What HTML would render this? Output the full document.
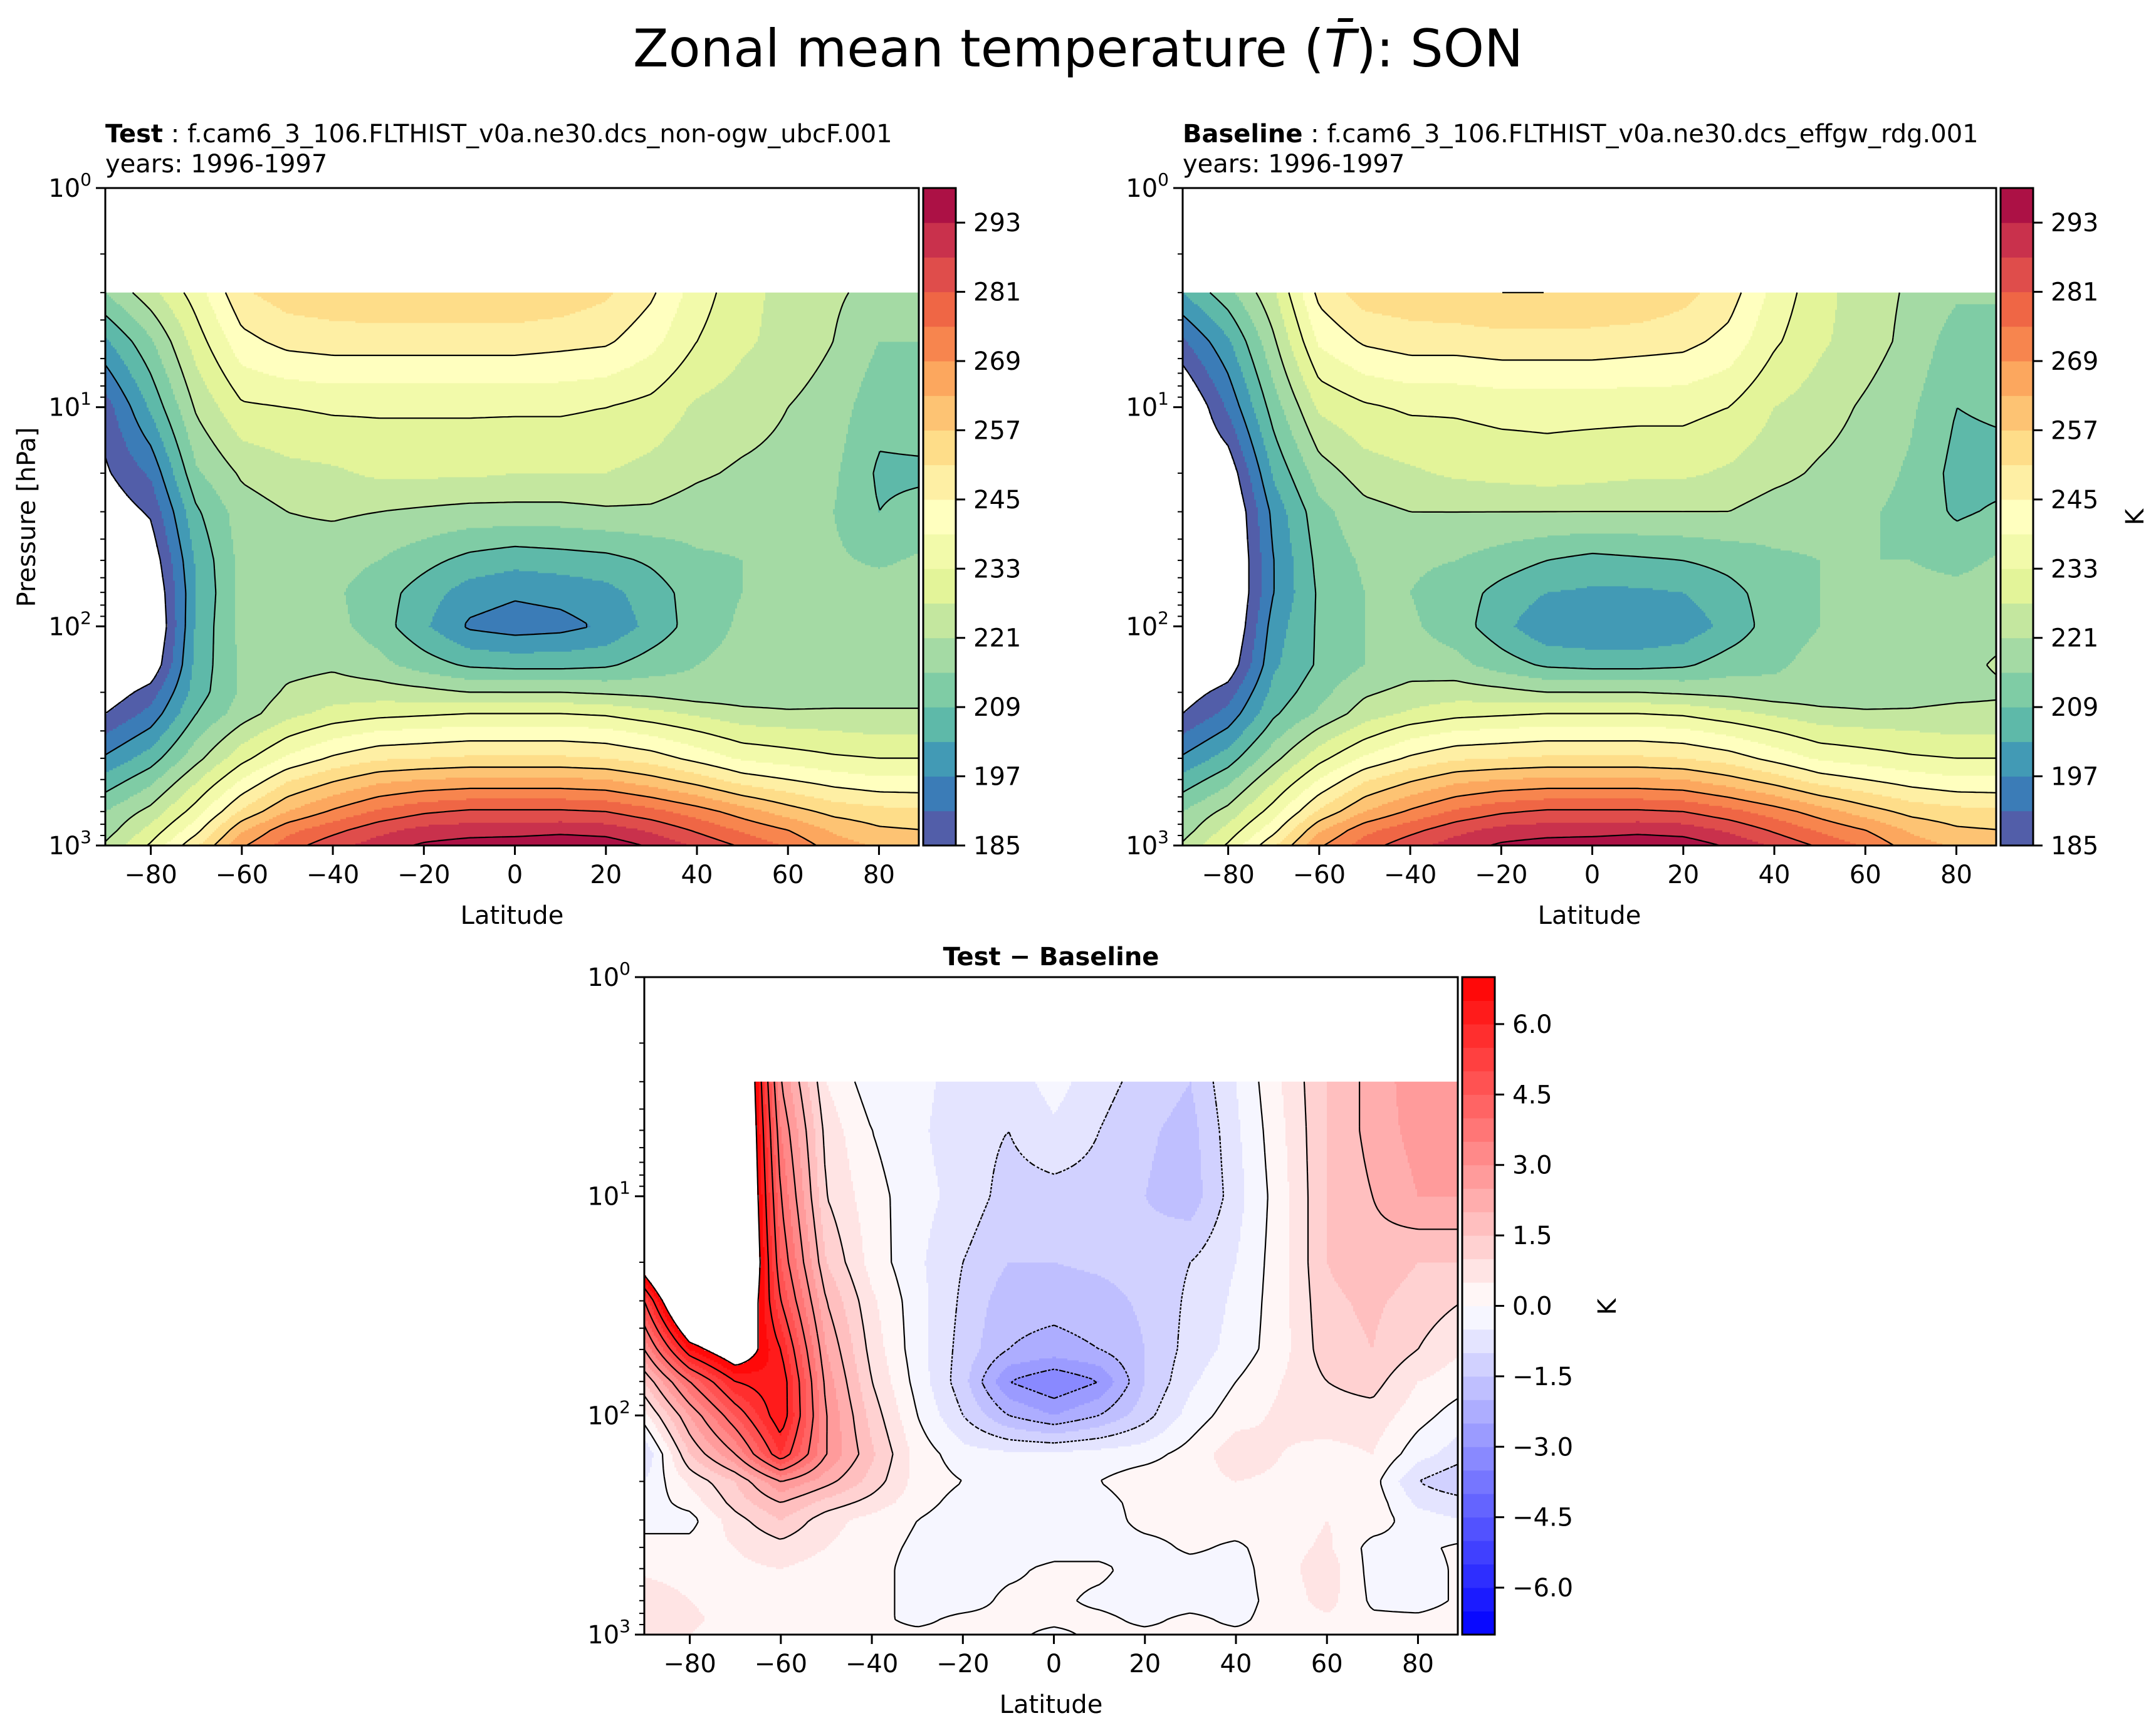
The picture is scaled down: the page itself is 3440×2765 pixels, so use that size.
<!DOCTYPE html>
<html><head><meta charset="utf-8">
<style>
html,body{margin:0;padding:0;background:#fff;}
svg{display:block;font-family:"DejaVu Sans","Liberation Sans",sans-serif;}
</style></head>
<body>
<svg id="fig" width="3440" height="2765" viewBox="0 0 3440 2765" xmlns="http://www.w3.org/2000/svg">
<rect width="3440" height="2765" fill="#fff"/>
<text x="1720" y="106" font-size="83" text-anchor="middle">Zonal mean temperature (<tspan font-style="italic">T̄</tspan>): SON</text>
<text x="168" y="227" font-size="40"><tspan font-weight="bold">Test</tspan> : f.cam6_3_106.FLTHIST_v0a.ne30.dcs_non-ogw_ubcF.001</text>
<text x="168" y="275" font-size="40">years: 1996-1997</text>
<text x="1887" y="227" font-size="40"><tspan font-weight="bold">Baseline</tspan> : f.cam6_3_106.FLTHIST_v0a.ne30.dcs_effgw_rdg.001</text>
<text x="1887" y="275" font-size="40">years: 1996-1997</text>
<text x="1677" y="1540" font-size="40" font-weight="bold" text-anchor="middle">Test − Baseline</text>
<text x="0" y="0" font-size="40" text-anchor="middle" transform="translate(56,825) rotate(-90)">Pressure [hPa]</text>
<text x="0" y="0" font-size="40" text-anchor="middle" transform="translate(3420,825) rotate(-90)">K</text>
<text x="0" y="0" font-size="40" text-anchor="middle" transform="translate(2578,2085) rotate(-90)">K</text>
<g id="layer"></g>
</svg>
<script>
const lats=[-90,-80,-70,-60,-50,-40,-30,-20,-10,0,10,20,30,40,50,60,70,80,90];
const pres=[3,5,10,20,30,50,70,100,150,200,250,300,400,500,700,850,1000];
const testT=[
[215,225,236,250,254,255,256,256,256,256,255,252,246,236,229,225,222,219,219],
[202,214,230,243,247,248,248,248,248,248,247,246,241,233,228,225,221,215,215],
[188,204,222,232,233,234,234,234,234,234,234,233,231,226,224,221,218,211,212],
[184,192,214,222,225,226,228,228,228,227,227,227,225,222,220,219,216,208,208],
[180,186,208,218,221,222,221,220,219,219,219,220,220,218,217,217,215,209,211],
[176,180,204,217,218,217,215,211,207,205,206,207,210,214,215,216,216,214,216],
[173,177,203,217,218,216,212,206,200,198,199,201,206,212,215,217,218,218,218],
[170,175,204,217,219,217,212,204,196,194,195,198,205,212,216,218,219,219,219],
[172,179,205,216,219,220,217,212,208,207,207,208,212,215,217,218,219,219,221],
[180,188,206,216,222,224,224,223,221,221,221,220,219,217,217,217,218,218,218],
[185,193,209,218,225,229,231,232,233,233,233,232,229,226,223,222,222,222,222],
[190,198,213,223,231,236,239,240,241,241,241,240,237,233,229,228,227,226,226],
[198,206,219,231,240,246,250,251,252,252,252,251,248,243,238,236,234,233,233],
[205,213,226,239,250,256,261,263,264,264,264,263,259,254,248,245,242,240,240],
[215,223,236,252,263,270,276,280,282,282,282,281,277,272,266,260,255,253,252],
[218,229,243,262,273,279,285,289,290,290,291,290,286,280,274,269,262,258,257],
[222,234,250,268,278,285,290,294,296,297,298,297,292,286,280,274,266,262,262]];
const baseT=[
[203,213,226,247,254,255,256,257,257,256,256,253,248,237,229,224,220,216,216],
[190,202,220,240,246,248,248,249,249,249,248,247,243,234,228,224,219,212,212],
[176,192,212,228,232,234,234,235,235,235,235,235,233,227,224,220,216,209,210],
[176,180,204,218,224,226,228,229,230,229,228,228,226,223,220,218,214,207,207],
[175,176,199,213,219,221,221,221,221,221,221,221,221,218,217,216,213,208,210],
[173,175,197,211,216,216,215,212,209,207,208,209,211,214,215,215,215,213,216],
[172,175,197,210,215,215,212,207,203,202,202,203,207,212,215,216,217,217,218],
[170,176,200,210,215,216,212,205,198,197,197,199,205,212,215,217,218,219,219],
[173,180,202,210,215,218,217,212,208,207,207,208,212,214,217,218,219,219,222],
[181,188,205,213,220,223,224,223,221,221,221,220,219,217,217,217,218,219,220],
[185,193,208,216,224,228,231,232,233,233,233,232,229,226,223,222,222,223,223],
[190,198,212,222,230,236,239,240,241,241,241,240,237,233,229,228,227,226,226],
[198,206,219,231,240,246,250,251,252,252,252,251,248,243,238,236,234,233,233],
[205,213,226,239,250,256,261,263,264,264,264,263,259,254,248,245,242,240,240],
[215,223,236,252,263,270,276,280,282,282,282,281,277,272,266,260,255,253,252],
[218,229,243,262,273,279,285,289,290,290,291,290,286,280,274,269,262,258,257],
[222,234,250,268,278,285,290,294,296,297,298,297,292,286,280,274,266,262,262]];
const diffT=[
[12,12,10,3,0.5,-0.3,-0.3,-0.8,-0.8,-0.3,-0.8,-1.2,-1.5,-0.5,0.5,1.5,2.2,2.8,2.8],
[12,12,10,3.5,0.8,0,-0.4,-0.8,-1.0,-0.6,-1.0,-1.4,-1.7,-0.6,0.4,1.5,2.2,2.7,2.7],
[12,12,10,4,1.0,0.2,-0.3,-0.7,-1.2,-1.2,-1.2,-1.5,-1.8,-0.7,0.3,1.5,2.0,2.5,2.5],
[8,12,10,4.5,1.5,0.3,-0.4,-1.0,-1.5,-1.5,-1.4,-1.3,-1.0,-0.5,0.3,1.5,1.8,1.5,1.5],
[5,10,9,5,2.0,0.6,-0.3,-1.1,-1.8,-1.8,-1.7,-1.4,-0.9,-0.4,0.3,1.4,1.6,1.3,1.0],
[3,6.5,8,6,2.5,0.8,-0.3,-1.2,-2.0,-2.2,-2.0,-1.5,-0.8,-0.3,0.3,1.3,1.5,1.0,0.5],
[1.5,4,6,6.5,2.8,1.0,-0.2,-1.3,-3.0,-3.5,-3.0,-1.5,-0.6,0.0,0.5,1.0,1.2,0.5,0.2],
[0.3,2.5,4.5,6.5,3,1.3,0,-1.0,-2.0,-2.5,-2.0,-1.2,-0.3,0.3,0.6,0.8,0.8,0.2,-0.3],
[-1,1.5,3,5.5,3,1.6,0.3,-0.3,-0.4,-0.4,-0.3,-0.2,0.2,0.8,0.5,0.3,0.5,-0.3,-0.8],
[-0.5,0.6,1.5,3,2.2,1.3,0.3,0,-0.1,-0.2,0,0.3,0.3,0.5,0.4,0.2,0.2,-1.0,-1.5],
[-0.3,0.2,1.2,2,1.3,0.8,0.2,-0.2,-0.2,-0.2,-0.2,0.2,0.2,0.3,0.3,0.4,0.3,-0.6,-0.8],
[-0.2,-0.2,0.8,1.5,0.7,0.3,0,-0.3,-0.3,-0.2,-0.3,0.2,0.2,0.3,0.2,0.5,0.3,-0.3,-0.5],
[0.2,0.2,0.5,0.8,0.5,0.2,-0.1,-0.3,-0.3,-0.2,-0.2,-0.2,0.1,-0.1,0.3,0.6,-0.2,-0.1,0.1],
[0.4,0.3,0.4,0.5,0.3,0.2,-0.2,-0.2,-0.1,0.1,0.1,-0.2,-0.2,-0.2,0.3,0.8,-0.2,-0.2,0.1],
[0.8,0.5,0.3,0.2,0.2,0.2,-0.2,-0.2,0.1,0.1,-0.1,-0.2,-0.2,-0.2,0.2,0.7,-0.1,-0.2,0.1],
[1,0.6,0.3,0.2,0.1,0.1,-0.1,0.1,0.1,0.1,0.1,-0.1,0.1,-0.1,0.2,0.4,0.1,0.1,0.2],
[1,0.5,0.2,0.1,0.1,0.1,0.1,0.1,0.1,-0.1,0.1,0.1,0.1,0.1,0.1,0.2,0.1,0.1,0.1]];
const tempTicks=[185,197,209,221,233,245,257,269,281,293];
const diffTicks=[-6.0,-4.5,-3.0,-1.5,0.0,1.5,3.0,4.5,6.0];
const latTicks=[-80,-60,-40,-20,0,20,40,60,80];
const tempLines=[185,197,209,221,233,245,257,269,281,293];
const diffLines=[-5,-4,-3,-2,-1,0,1,2,3,4,5,6,7];
const tempLevels={min:185,max:299,step:6};
const diffLevels={min:-7,max:7,step:0.5};

const NS="http://www.w3.org/2000/svg";
const layer=document.getElementById('layer');
function mk(tag,attrs,parent){const e=document.createElementNS(NS,tag);for(const k in attrs)e.setAttribute(k,attrs[k]);(parent||layer).appendChild(e);return e;}

const spectral=[[158,1,66],[213,62,79],[244,109,67],[253,174,97],[254,224,139],[255,255,191],[230,245,152],[171,221,164],[102,194,165],[50,136,189],[94,79,162]];
function spectralR(t){t=1-t;const f=t*10;const i=Math.min(9,Math.floor(f));const u=f-i;const a=spectral[i],b=spectral[i+1];
 return 'rgb('+a.map((v,k)=>Math.round(v+(b[k]-v)*u)).join(',')+')';}
function bwr(t){let r,g,b;if(t<0.5){r=g=Math.round(255*t*2);b=255;}else{r=255;g=b=Math.round(255*(1-t)*2);}return 'rgb('+r+','+g+','+b+')';}

function interp(grid,lat,p){
 let lp=Math.log10(p);
 let i=0;while(i<lats.length-2&&lat>lats[i+1])i++;
 let u=(lat-lats[i])/(lats[i+1]-lats[i]);u=Math.max(0,Math.min(1,u));
 let j=0;while(j<pres.length-2&&lp>Math.log10(pres[j+1]))j++;
 let v=(lp-Math.log10(pres[j]))/(Math.log10(pres[j+1])-Math.log10(pres[j]));v=Math.max(0,Math.min(1,v));
 const a=grid[j][i],b=grid[j][i+1],c=grid[j+1][i],d=grid[j+1][i+1];
 return a*(1-u)*(1-v)+b*u*(1-v)+c*(1-u)*v+d*u*v;
}

function drawPanel(name,grid,x0,y0,lev,cmap,ticks,tickFmt,lines){
 const w=1298,h=1049;
 const xs=lat=>x0+(lat+90)/178.75*w;
 const ys=p=>y0+Math.log10(p)/3*h;
 const g=mk('g',{});
 
 
 const nb=Math.round((lev.max-lev.min)/lev.step);
 const paths=[];for(let k=0;k<nb;k++)paths.push('');
 const st=3;const yTop=ys(pres[0]);
 const xEnd=x0+w;
 for(let y=yTop;y<y0+h;y+=st){
  const hh=Math.min(st,y0+h-y);
  const p=Math.pow(10,(y+hh/2-y0)/h*3);
  let runB=-2,runX=x0;
  const flush=(xe)=>{if(runB>=0)paths[runB]+='M'+runX.toFixed(1)+' '+y.toFixed(1)+'H'+xe.toFixed(1)+'V'+(y+hh+0.6).toFixed(1)+'H'+runX.toFixed(1)+'Z';};
  for(let x=x0;x<xEnd;x+=st){
   const lat=(Math.min(x+st/2,xEnd)-x0)/w*178.75-90;const val=interp(grid,lat,p);
   let b=Math.floor((val-lev.min)/lev.step);if(b<0||b>=nb)b=-1;
   if(b!==runB){flush(x);runB=b;runX=x;}
  }
  flush(xEnd);
 }
 for(let k=0;k<nb;k++){if(!paths[k])continue;
  const pe=mk('path',{d:paths[k],fill:cmap((k+0.5)/nb)},g);
  
  
 }
 // contour lines via marching squares
 const s=6;const nx=Math.ceil(w/s)+1,ny=Math.ceil((y0+h-yTop)/s)+1;
 const F=[];
 for(let j=0;j<ny;j++){const yy=Math.min(yTop+j*s,y0+h);const p=Math.pow(10,(yy-y0)/h*3);const row=[];
  for(let i=0;i<nx;i++){const xx=Math.min(x0+i*s,xEnd);row.push(interp(grid,(xx-x0)/w*178.75-90,p));}F.push(row);}
 const px=i=>Math.min(x0+i*s,xEnd),py=j=>Math.min(yTop+j*s,y0+h);
 lines.forEach(L=>{
  let d='';
  for(let j=0;j<ny-1;j++)for(let i=0;i<nx-1;i++){
   const a=F[j][i],b=F[j][i+1],c=F[j+1][i+1],e=F[j+1][i];
   const pts=[];
   const ed=(v1,v2,x1,y1,x2,y2)=>{if((v1<L)!==(v2<L)){const t=(L-v1)/(v2-v1);pts.push([x1+(x2-x1)*t,y1+(y2-y1)*t]);}};
   ed(a,b,px(i),py(j),px(i+1),py(j));
   ed(b,c,px(i+1),py(j),px(i+1),py(j+1));
   ed(c,e,px(i+1),py(j+1),px(i),py(j+1));
   ed(e,a,px(i),py(j+1),px(i),py(j));
   for(let k=0;k+1<pts.length;k+=2)d+='M'+pts[k][0].toFixed(1)+' '+pts[k][1].toFixed(1)+'L'+pts[k+1][0].toFixed(1)+' '+pts[k+1][1].toFixed(1);
  }
  if(d){const attrs={d:d,fill:'none',stroke:'#000','stroke-width':2.2};
   if(L<0)attrs['stroke-dasharray']='4,3';
   const cl=mk('path',attrs,g);
   
   }
 });
 const fr=mk('rect',{x:x0,y:y0,width:w,height:h,fill:'none',stroke:'#000','stroke-width':3},g);
 
 
 latTicks.forEach(t=>{const x=xs(t);
  mk('line',{x1:x,x2:x,y1:y0+h,y2:y0+h+15,stroke:'#000','stroke-width':3},g);
  const tx=mk('text',{x:x,y:y0+h+60,'font-size':40,'text-anchor':'middle'},g);tx.textContent=(t<0?'−':'')+Math.abs(t);
  
  
 });
 const xl=mk('text',{x:x0+w/2,y:y0+h+125,'font-size':40,'text-anchor':'middle'},g);xl.textContent='Latitude';
 
 
 for(let dd=0;dd<=3;dd++){const y=y0+dd/3*h;
  mk('line',{x1:x0-15,x2:x0,y1:y,y2:y,stroke:'#000','stroke-width':3},g);
  const tx=mk('text',{x:x0-22,y:y+14,'font-size':40,'text-anchor':'end'},g);
  tx.innerHTML='10<tspan dy="-18" font-size="28">'+dd+'</tspan>';
  
  
  if(dd<3)for(let m=2;m<=9;m++){const yy=y0+(dd+Math.log10(m))/3*h;mk('line',{x1:x0-8,x2:x0,y1:yy,y2:yy,stroke:'#000','stroke-width':2},g);}
 }
 const cx=x0+w+7,cw=52;
 const cb=mk('g',{},g);
 
 
 const cy=v=>y0+h-(v-lev.min)/(lev.max-lev.min)*h;
 for(let k=0;k<nb;k++){const v0=lev.min+k*lev.step,v1=v0+lev.step;
  const r=mk('rect',{x:cx,y:cy(v1),width:cw,height:cy(v0)-cy(v1)+0.5,fill:cmap((k+0.5)/nb)},cb);
  
  
 }
 mk('rect',{x:cx,y:y0,width:cw,height:h,fill:'none',stroke:'#000','stroke-width':3},cb);
 ticks.forEach(t=>{const y=cy(t);
  mk('line',{x1:cx+cw,x2:cx+cw+15,y1:y,y2:y,stroke:'#000','stroke-width':3},cb);
  const tx=mk('text',{x:cx+cw+28,y:y+14,'font-size':40},cb);tx.textContent=tickFmt(t);
  
  
 });
}
drawPanel('test',testT,168,300,tempLevels,spectralR,tempTicks,t=>String(t),tempLines);
drawPanel('baseline',baseT,1887,300,tempLevels,spectralR,tempTicks,t=>String(t),tempLines);
drawPanel('diff',diffT,1028,1559,diffLevels,bwr,diffTicks,t=>(t<0?'−':'')+Math.abs(t).toFixed(1),diffLines);
</script>
</body></html>
